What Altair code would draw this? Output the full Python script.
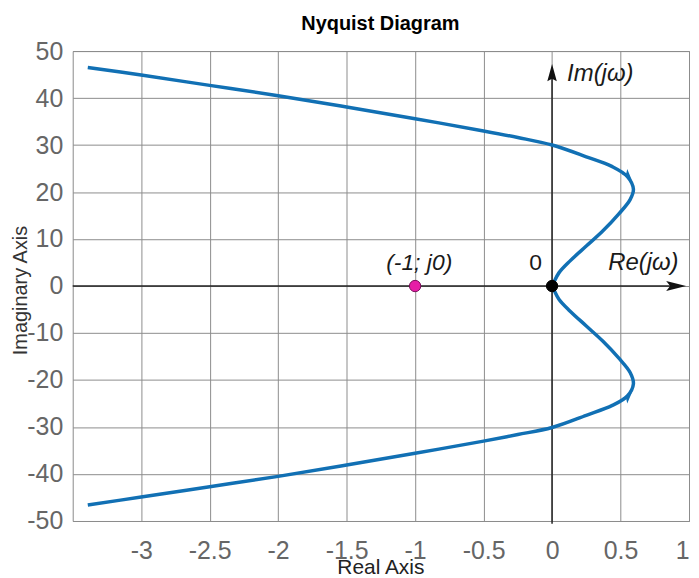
import altair as alt
import pandas as pd

# ---- data ----
re_upper = [-3.39, -3.0, -2.5, -2.0, -1.5, -1.0, -0.5, -0.25, 0.0, 0.25, 0.44, 0.55, 0.594, 0.57, 0.486, 0.37, 0.25, 0.13, 0.05, 0.01, 0.0]
im_upper = [46.5, 44.9, 42.7, 40.5, 38.1, 35.6, 33.0, 31.6, 30.0, 27.5, 25.4, 23.3, 20.6, 18.4, 15.3, 11.7, 8.5, 5.3, 2.8, 0.6, 0.0]
re_lower = [-3.39, -3.0, -2.5, -2.0, -1.5, -1.0, -0.5, -0.25, 0.0, 0.25, 0.44, 0.55, 0.594, 0.57, 0.486, 0.37, 0.25, 0.13, 0.05, 0.01, 0.0]
im_lower = [-46.6, -44.9, -42.7, -40.5, -38.1, -35.6, -33.0, -31.6, -30.1, -27.5, -25.4, -23.4, -20.8, -18.4, -15.3, -11.7, -8.5, -5.3, -2.8, -0.6, 0.0]

x_ticks = [-3, -2.5, -2, -1.5, -1, -0.5, 0, 0.5, 1]
y_ticks = [-50, -40, -30, -20, -10, 0, 10, 20, 30, 40, 50]

# direction arrows on the curve
arrow_re = [0.555, 0.555]
arrow_im = [23.5, -23.6]
arrow_angle = [138, 42]

# special points
pt_re = [-1.0, 0.0]
pt_im = [0.0, 0.0]
pt_name = ["critical", "origin"]

# coordinate axes drawn inside the plot (with arrowheads)
haxis_re = [-3.5, 0.95]
haxis_im = [0.0]
vaxis_re = [0.0]
vaxis_im = [-50.6, 45.0]
harrow_re = [0.906]
harrow_im = [0.0]
varrow_re = [0.0]
varrow_im = [45.4]

# annotations
lab_left_text = ["Im(j\u03c9)", "Re(j\u03c9)"]
lab_left_re = [0.11, 0.41]
lab_left_im = [45.2, 5.0]
lab_center_text = ["0", "(-1; j0)"]
lab_center_re = [-0.12, -0.97]
lab_center_im = [5.0, 4.8]

title_text = ["Nyquist Diagram"]

FONT = "Liberation Sans"
BLUE = "#1170b4"

curve = pd.DataFrame({
    "re": re_upper + re_lower,
    "im": im_upper + im_lower,
    "branch": ["upper"] * len(re_upper) + ["lower"] * len(re_lower),
    "idx": list(range(len(re_upper))) + list(range(len(re_lower))),
})

X = alt.X("re:Q", scale=alt.Scale(domain=[-3.5, 1], nice=False, zero=False),
          axis=alt.Axis(values=x_ticks, labelExpr="'' + datum.value", labelPadding=18,
                        title="Real Axis", titleFontSize=21, titleFont=FONT, titleFontWeight="normal",
                        titleColor="#222222", titleBaseline="alphabetic", titleY=53, titleX=309))
Y = alt.Y("im:Q", scale=alt.Scale(domain=[-50, 50], nice=False, zero=False),
          axis=alt.Axis(values=y_ticks, labelExpr="'' + datum.value", labelPadding=10,
                        title="Imaginary Axis", titleFontSize=20, titleFont=FONT, titleFontWeight="normal",
                        titleColor="#333333", titleBaseline="alphabetic", titleX=-46, titleY=240,
                        titleAngle=270))

line = alt.Chart(curve).mark_line(color=BLUE, strokeWidth=3.5, interpolate="catmull-rom").encode(
    x=X, y=Y, detail="branch:N", order="idx:Q")

haxis = alt.Chart(pd.DataFrame({"re": [haxis_re[0]], "re2": [haxis_re[1]], "im": haxis_im})).mark_rule(
    color="#222222", strokeWidth=1.5).encode(x=X, x2="re2:Q", y=Y)
vaxis = alt.Chart(pd.DataFrame({"re": vaxis_re, "im": [vaxis_im[0]], "im2": [vaxis_im[1]]})).mark_rule(
    color="#222222", strokeWidth=1.5).encode(x=X, y=Y, y2="im2:Q")

harrow = alt.Chart(pd.DataFrame({"re": harrow_re, "im": harrow_im})).mark_point(
    shape="M1,0L-1,-0.5L-0.6,0L-1,0.5Z", filled=True, color="#111111", opacity=1, size=400).encode(x=X, y=Y)
varrow = alt.Chart(pd.DataFrame({"re": varrow_re, "im": varrow_im})).mark_point(
    shape="M0,-1L0.55,1L0,0.7L-0.55,1Z", filled=True, color="#111111", opacity=1, size=300).encode(x=X, y=Y)

carrows = alt.Chart(pd.DataFrame({"re": arrow_re, "im": arrow_im, "ang": arrow_angle})).mark_point(
    shape="M0,-1L0.7,1L0,0.5L-0.7,1Z", filled=True, color=BLUE, opacity=1, size=120).encode(
    x=X, y=Y, angle=alt.Angle("ang:Q", scale=None))

pts = alt.Chart(pd.DataFrame({"re": pt_re, "im": pt_im, "name": pt_name})).mark_point(
    shape="circle", filled=True, opacity=1, size=130, strokeWidth=1).encode(
    x=X, y=Y,
    fill=alt.Fill("name:N", scale=alt.Scale(domain=pt_name, range=["#e61ea6", "#000000"]), legend=None),
    stroke=alt.Stroke("name:N", scale=alt.Scale(domain=pt_name, range=["#7a0f5a", "#000000"]), legend=None))

txt_left = alt.Chart(pd.DataFrame({"re": lab_left_re, "im": lab_left_im, "t": lab_left_text})).mark_text(
    align="left", baseline="middle", font=FONT, fontSize=24, fontStyle="italic", color="#1a1a1a").encode(
    x=X, y=Y, text="t:N")
txt_center = alt.Chart(pd.DataFrame({"re": lab_center_re, "im": lab_center_im, "t": lab_center_text})).mark_text(
    align="center", baseline="middle", font=FONT, fontSize=23, color="#1a1a1a").encode(
    x=X, y=Y, text="t:N")
txt_crit = txt_center.transform_filter(alt.datum.t != "0").mark_text(
    align="center", baseline="middle", font=FONT, fontSize=23, fontStyle="italic", color="#1a1a1a")
txt_zero = txt_center.transform_filter(alt.datum.t == "0")

title = alt.Chart(pd.DataFrame({"t": title_text})).mark_text(
    align="center", baseline="alphabetic", font=FONT, fontSize=20, fontWeight="bold", color="#000000").encode(
    x=alt.value(309), y=alt.value(-21), text="t:N")

chart = alt.layer(haxis, vaxis, line, carrows, harrow, varrow, pts, txt_left, txt_zero, txt_crit, title).properties(
    width=619, height=472,
    padding={"left": 65, "top": 42, "right": 2, "bottom": 56},
    autosize=alt.AutoSizeParams(type="none"),
).configure_view(stroke="#8a8a8a", strokeWidth=1).configure_axis(
    domain=False, ticks=False, grid=True, gridColor="#8c8c8c", gridOpacity=1, gridWidth=1,
    labelFont=FONT, labelFontSize=25, labelColor="#666666",
)

chart.save("out.html", embed_options={"renderer": "svg", "actions": False})
